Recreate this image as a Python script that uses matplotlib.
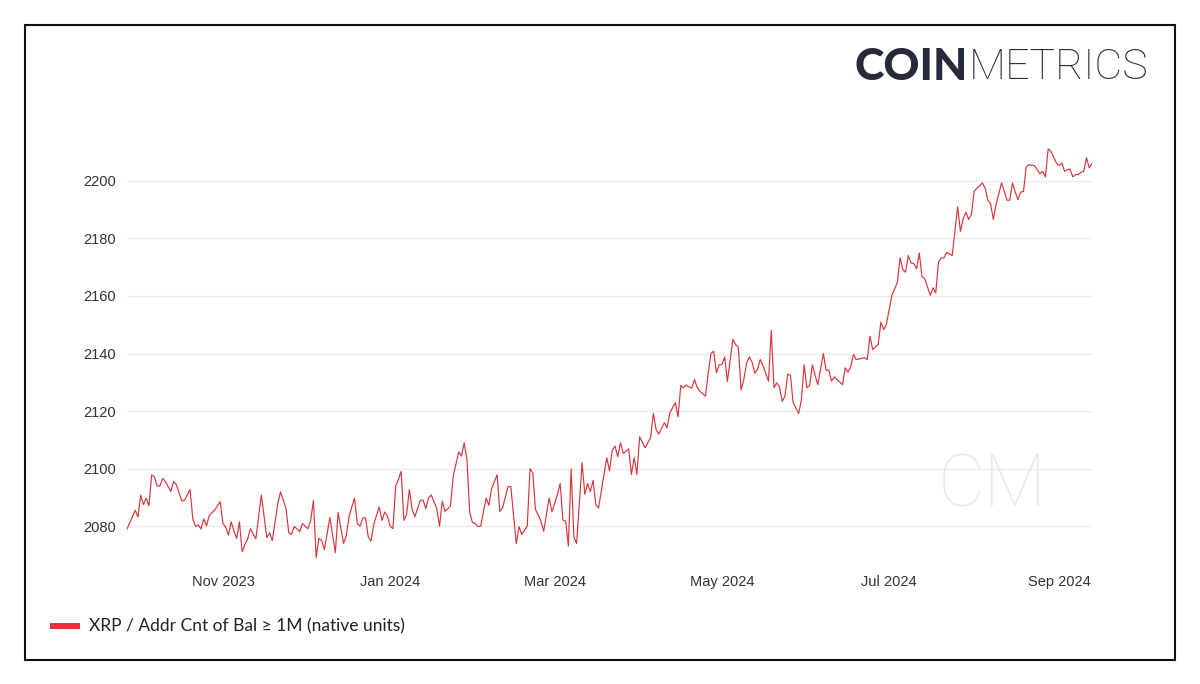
import matplotlib
matplotlib.use("Agg")
import matplotlib.pyplot as plt
import matplotlib.dates as mdates
from matplotlib.patches import Rectangle
import pandas as pd

# values (daily series, turning points)
dates = [
	"2023-09-27", "2023-09-30", "2023-10-01", "2023-10-02", "2023-10-03", "2023-10-04",
	"2023-10-05", "2023-10-06", "2023-10-07", "2023-10-08", "2023-10-09", "2023-10-10",
	"2023-10-11", "2023-10-13", "2023-10-14", "2023-10-15", "2023-10-17", "2023-10-18",
	"2023-10-20", "2023-10-21", "2023-10-22", "2023-10-23", "2023-10-24", "2023-10-25",
	"2023-10-26", "2023-10-27", "2023-10-29", "2023-10-31", "2023-11-01", "2023-11-02",
	"2023-11-03", "2023-11-04", "2023-11-05", "2023-11-06", "2023-11-07", "2023-11-08",
	"2023-11-09", "2023-11-10", "2023-11-11", "2023-11-13", "2023-11-15", "2023-11-17",
	"2023-11-18", "2023-11-19", "2023-11-21", "2023-11-22", "2023-11-24", "2023-11-25",
	"2023-11-26", "2023-11-27", "2023-11-29", "2023-11-30", "2023-12-02", "2023-12-03",
	"2023-12-04", "2023-12-05", "2023-12-06", "2023-12-07", "2023-12-08", "2023-12-10",
	"2023-12-12", "2023-12-13", "2023-12-15", "2023-12-16", "2023-12-17", "2023-12-19",
	"2023-12-20", "2023-12-21", "2023-12-22", "2023-12-23", "2023-12-24", "2023-12-25",
	"2023-12-26", "2023-12-28", "2023-12-29", "2023-12-30", "2023-12-31", "2024-01-01",
	"2024-01-02", "2024-01-03", "2024-01-04", "2024-01-05", "2024-01-06", "2024-01-07",
	"2024-01-08", "2024-01-09", "2024-01-10", "2024-01-12", "2024-01-13", "2024-01-14",
	"2024-01-15", "2024-01-16", "2024-01-18", "2024-01-19", "2024-01-20", "2024-01-21",
	"2024-01-23", "2024-01-24", "2024-01-26", "2024-01-27", "2024-01-28", "2024-01-29",
	"2024-01-30", "2024-01-31", "2024-02-01", "2024-02-02", "2024-02-03", "2024-02-05",
	"2024-02-06", "2024-02-07", "2024-02-09", "2024-02-10", "2024-02-11", "2024-02-13",
	"2024-02-14", "2024-02-16", "2024-02-17", "2024-02-18", "2024-02-20", "2024-02-21",
	"2024-02-22", "2024-02-23", "2024-02-25", "2024-02-26", "2024-02-28", "2024-02-29",
	"2024-03-02", "2024-03-03", "2024-03-04", "2024-03-05", "2024-03-06", "2024-03-07",
	"2024-03-08", "2024-03-09", "2024-03-11", "2024-03-12", "2024-03-13", "2024-03-14",
	"2024-03-15", "2024-03-16", "2024-03-17", "2024-03-20", "2024-03-21", "2024-03-22",
	"2024-03-23", "2024-03-24", "2024-03-25", "2024-03-26", "2024-03-28", "2024-03-29",
	"2024-03-30", "2024-03-31", "2024-04-01", "2024-04-03", "2024-04-05", "2024-04-06",
	"2024-04-07", "2024-04-08", "2024-04-10", "2024-04-11", "2024-04-12", "2024-04-14",
	"2024-04-15", "2024-04-16", "2024-04-17", "2024-04-18", "2024-04-19", "2024-04-20",
	"2024-04-21", "2024-04-22", "2024-04-23", "2024-04-25", "2024-04-26", "2024-04-27",
	"2024-04-28", "2024-04-29", "2024-04-30", "2024-05-01", "2024-05-02", "2024-05-03",
	"2024-05-05", "2024-05-06", "2024-05-07", "2024-05-08", "2024-05-09", "2024-05-10",
	"2024-05-11", "2024-05-12", "2024-05-13", "2024-05-14", "2024-05-15", "2024-05-16",
	"2024-05-18", "2024-05-19", "2024-05-20", "2024-05-21", "2024-05-22", "2024-05-23",
	"2024-05-24", "2024-05-25", "2024-05-26", "2024-05-27", "2024-05-29", "2024-05-30",
	"2024-05-31", "2024-06-01", "2024-06-02", "2024-06-03", "2024-06-04", "2024-06-05",
	"2024-06-07", "2024-06-08", "2024-06-09", "2024-06-10", "2024-06-11", "2024-06-14",
	"2024-06-15", "2024-06-16", "2024-06-17", "2024-06-18", "2024-06-19", "2024-06-22",
	"2024-06-23", "2024-06-24", "2024-06-25", "2024-06-27", "2024-06-28", "2024-06-29",
	"2024-06-30", "2024-07-02", "2024-07-04", "2024-07-05", "2024-07-06", "2024-07-07",
	"2024-07-08", "2024-07-09", "2024-07-10", "2024-07-11", "2024-07-12", "2024-07-13",
	"2024-07-14", "2024-07-16", "2024-07-17", "2024-07-18", "2024-07-19", "2024-07-20",
	"2024-07-21", "2024-07-22", "2024-07-24", "2024-07-26", "2024-07-27", "2024-07-28",
	"2024-07-29", "2024-07-30", "2024-07-31", "2024-08-01", "2024-08-04", "2024-08-05",
	"2024-08-06", "2024-08-07", "2024-08-08", "2024-08-09", "2024-08-11", "2024-08-12",
	"2024-08-13", "2024-08-14", "2024-08-15", "2024-08-16", "2024-08-17", "2024-08-18",
	"2024-08-19", "2024-08-20", "2024-08-21", "2024-08-23", "2024-08-24", "2024-08-25",
	"2024-08-26", "2024-08-27", "2024-08-28", "2024-08-29", "2024-08-31", "2024-09-01",
	"2024-09-02", "2024-09-03", "2024-09-04", "2024-09-05", "2024-09-06", "2024-09-07",
	"2024-09-08", "2024-09-09", "2024-09-10", "2024-09-11", "2024-09-12", "2024-09-13",
]

addr_count = [
	2079.1, 2085.6, 2083.3, 2090.8, 2087.6, 2089.8,
	2087.2, 2097.9, 2097.2, 2094.0, 2094.0, 2096.7,
	2095.6, 2092.1, 2095.6, 2094.5, 2088.8, 2089.1,
	2092.8, 2082.6, 2080.0, 2080.5, 2079.1, 2082.6,
	2080.2, 2083.8, 2085.7, 2088.6, 2080.9, 2079.8,
	2077.0, 2081.6, 2078.4, 2075.8, 2081.6, 2071.2,
	2073.7, 2075.6, 2079.2, 2075.7, 2090.9, 2076.1,
	2077.8, 2075.1, 2087.9, 2092.0, 2086.2, 2077.8,
	2077.2, 2080.0, 2078.2, 2081.0, 2079.2, 2082.1,
	2089.0, 2069.2, 2075.9, 2075.2, 2072.0, 2083.1,
	2070.9, 2084.9, 2074.1, 2076.9, 2083.6, 2089.8,
	2081.0, 2080.1, 2082.9, 2083.0, 2076.4, 2074.9,
	2080.7, 2086.8, 2082.1, 2085.0, 2083.6, 2080.1,
	2079.2, 2094.0, 2096.3, 2099.1, 2082.1, 2084.2,
	2092.8, 2085.9, 2083.4, 2089.1, 2089.1, 2086.2,
	2089.9, 2090.9, 2086.1, 2080.1, 2088.8, 2085.2,
	2087.1, 2097.5, 2105.9, 2104.4, 2109.0, 2103.2,
	2085.0, 2081.3, 2081.0, 2079.9, 2080.1, 2089.8,
	2087.3, 2093.1, 2097.9, 2085.2, 2086.5, 2093.8,
	2093.8, 2074.0, 2079.9, 2077.2, 2080.1, 2100.0,
	2098.6, 2085.9, 2081.8, 2078.3, 2089.9, 2085.0,
	2091.1, 2094.9, 2082.2, 2081.8, 2073.2, 2100.0,
	2076.4, 2074.1, 2102.1, 2091.1, 2094.9, 2092.1,
	2096.0, 2087.6, 2086.4, 2103.8, 2099.3, 2106.4,
	2107.9, 2104.2, 2109.0, 2105.3, 2106.9, 2098.0,
	2103.8, 2098.0, 2111.1, 2107.3, 2110.8, 2119.2,
	2113.6, 2112.0, 2116.0, 2114.2, 2119.4, 2122.9,
	2118.0, 2128.9, 2128.1, 2129.1, 2128.4, 2128.0,
	2131.0, 2128.2, 2126.9, 2125.2, 2133.1, 2140.0,
	2140.8, 2133.3, 2136.1, 2136.1, 2138.8, 2130.3,
	2144.9, 2143.1, 2142.2, 2127.3, 2131.0, 2136.8,
	2138.8, 2137.0, 2133.1, 2134.5, 2137.9, 2135.8,
	2130.4, 2148.0, 2128.1, 2129.8, 2128.4, 2123.4,
	2125.2, 2132.8, 2132.4, 2122.9, 2119.2, 2124.0,
	2136.1, 2128.1, 2128.9, 2136.1, 2132.4, 2129.2,
	2140.0, 2134.2, 2134.2, 2130.4, 2131.9, 2129.2,
	2135.0, 2133.5, 2135.4, 2139.7, 2137.9, 2138.5,
	2137.9, 2146.0, 2141.4, 2143.1, 2150.9, 2148.3,
	2150.1, 2160.1, 2164.7, 2173.2, 2169.1, 2168.2,
	2174.0, 2171.4, 2171.2, 2169.4, 2174.9, 2166.6,
	2166.0, 2160.2, 2162.8, 2161.0, 2171.7, 2173.2,
	2173.2, 2175.1, 2174.0, 2190.9, 2182.4, 2186.7,
	2189.0, 2186.5, 2188.2, 2196.3, 2199.2, 2197.5,
	2193.2, 2192.0, 2186.5, 2191.7, 2199.2, 2196.3,
	2193.2, 2193.2, 2199.2, 2196.0, 2193.4, 2196.0,
	2196.2, 2204.7, 2205.5, 2205.2, 2203.8, 2202.4,
	2203.2, 2201.3, 2211.0, 2210.2, 2206.1, 2205.2,
	2206.1, 2203.2, 2203.8, 2204.0, 2201.3, 2202.1,
	2202.1, 2202.9, 2203.2, 2207.9, 2204.4, 2205.9,
]

y_ticks = [2080, 2100, 2120, 2140, 2160, 2180, 2200]
x_ticks = ["2023-11-01", "2024-01-01", "2024-03-01", "2024-05-01", "2024-07-01", "2024-09-01"]
series_label = "XRP / Addr Cnt of Bal \u2265 1M (native units)"

W, H = 1200, 684
fig = plt.figure(figsize=(W / 100, H / 100), dpi=100)
fig.patch.set_facecolor("white")

# axes placed in pixel terms of the reference
ax = fig.add_axes([127 / W, 1 - 561 / H, 965 / W, 415 / H])
x = pd.to_datetime(dates)
ax.plot(x, addr_count, color="#d9353d", linewidth=0.85)

ax.set_xlim(x[0], x[-1])
ax.set_ylim(2068, 2212)
ax.set_yticks(y_ticks)
ax.set_xticks(pd.to_datetime(x_ticks))
ax.xaxis.set_major_formatter(mdates.DateFormatter("%b %Y"))
ax.grid(axis="y", color="#ebebeb", linewidth=1)
ax.set_axisbelow(True)
for s in ax.spines.values():
	s.set_visible(False)
ax.tick_params(axis="both", length=0, labelcolor="#333333")
ax.tick_params(axis="y", pad=8, labelsize=10.5)
ax.tick_params(axis="x", pad=10, labelsize=10.5)
for lbl in ax.get_xticklabels() + ax.get_yticklabels():
	lbl.set_family("Liberation Sans")

# watermark
ax.text(0.897, 0.178, "CM", transform=ax.transAxes, fontsize=52, color="#e8eaf4",
	family="Roboto", fontweight="light", ha="center", va="center", zorder=0)

# logo
fig.text(855 / W, 1 - 67 / H, "COIN", fontsize=32, fontweight="black", family="Lato",
	color="#272a3b", ha="left", va="center")
fig.text(969 / W, 1 - 67 / H, "METRICS", fontsize=31, fontweight="light", family="Roboto",
	color="#272a3b", ha="left", va="center")

# legend
fig.patches.append(Rectangle((50 / W, 1 - 629 / H), 30 / W, 6 / H, transform=fig.transFigure,
	facecolor="#e0343c", edgecolor="none"))
fig.text(89 / W, 1 - 626 / H, series_label, fontsize=12.5, family="Lato", color="#222222",
	ha="left", va="center")

# outer frame
fig.patches.append(Rectangle((25 / W, 1 - 660 / H), 1150 / W, 635 / H, transform=fig.transFigure,
	facecolor="none", edgecolor="#111111", linewidth=1.5))

fig.savefig("out.png", dpi=100)
